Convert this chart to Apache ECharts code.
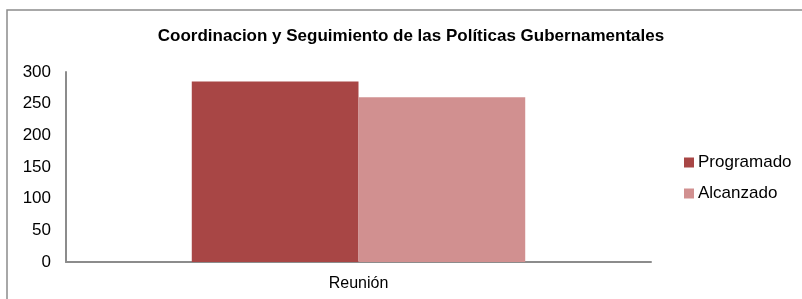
<!DOCTYPE html>
<html>
<head>
<meta charset="utf-8">
<script src="https://cdn.jsdelivr.net/npm/echarts@6/dist/echarts.min.js"></script>
<style>
  html, body { margin: 0; padding: 0; background: #fff; }
  #chart { width: 802px; height: 299px; }
</style>
</head>
<body>
<div id="chart"></div>
<script>
  // datos
  const categories = ['Reunión']
  const programado = [285]
  const alcanzado = [260]
  const yTicks = [0, 50, 100, 150, 200, 250, 300]

  const chart = echarts.init(document.getElementById('chart'))
  const font = 'Liberation Sans, Arial, sans-serif'

  const option = {
    animation: false,
    textStyle: { fontFamily: font },
    title: {
      text: 'Coordinacion y Seguimiento de las Políticas Gubernamentales',
      left: 411,
      top: 28,
      textAlign: 'center',
      padding: 0,
      textStyle: { fontSize: 17, fontWeight: 'bold', color: '#000', fontFamily: font },
    },
    graphic: [
      {
        type: 'rect',
        shape: { x: 7, y: 10, width: 820, height: 320 },
        style: { fill: 'none', stroke: '#8c8c8c', lineWidth: 1.5 },
        silent: true,
      },
    ],
    legend: {
      orient: 'vertical',
      left: 684,
      top: 154,
      padding: 0,
      itemWidth: 10,
      itemHeight: 10,
      itemGap: 14,
      icon: 'rect',
      textStyle: { fontSize: 17, color: '#000', padding: [0, 0, 0, -1] },
      data: ['Programado', 'Alcanzado'],
    },
    grid: {
      left: 66,
      right: 151,
      top: 72,
      bottom: 37,
    },
    xAxis: {
      type: 'category',
      data: categories,
      axisLine: { lineStyle: { color: '#8c8c8c', width: 2 } },
      axisTick: { show: false },
      axisLabel: { fontSize: 16, color: '#000', margin: 14 },
    },
    yAxis: {
      type: 'value',
      min: yTicks[0],
      max: yTicks[yTicks.length - 1],
      interval: 50,
      axisLine: { show: true, lineStyle: { color: '#8c8c8c', width: 2 } },
      axisTick: { show: false },
      splitLine: { show: false },
      axisLabel: { fontSize: 17, color: '#000', margin: 15 },
    },
    series: [
      {
        name: 'Programado',
        type: 'bar',
        data: programado,
        barWidth: '28.5%',
        barGap: 0,
        itemStyle: { color: '#A84645' },
      },
      {
        name: 'Alcanzado',
        type: 'bar',
        data: alcanzado,
        barWidth: '28.5%',
        itemStyle: { color: '#D19090' },
      },
    ],
  }

  chart.setOption(option)
</script>
</body>
</html>
